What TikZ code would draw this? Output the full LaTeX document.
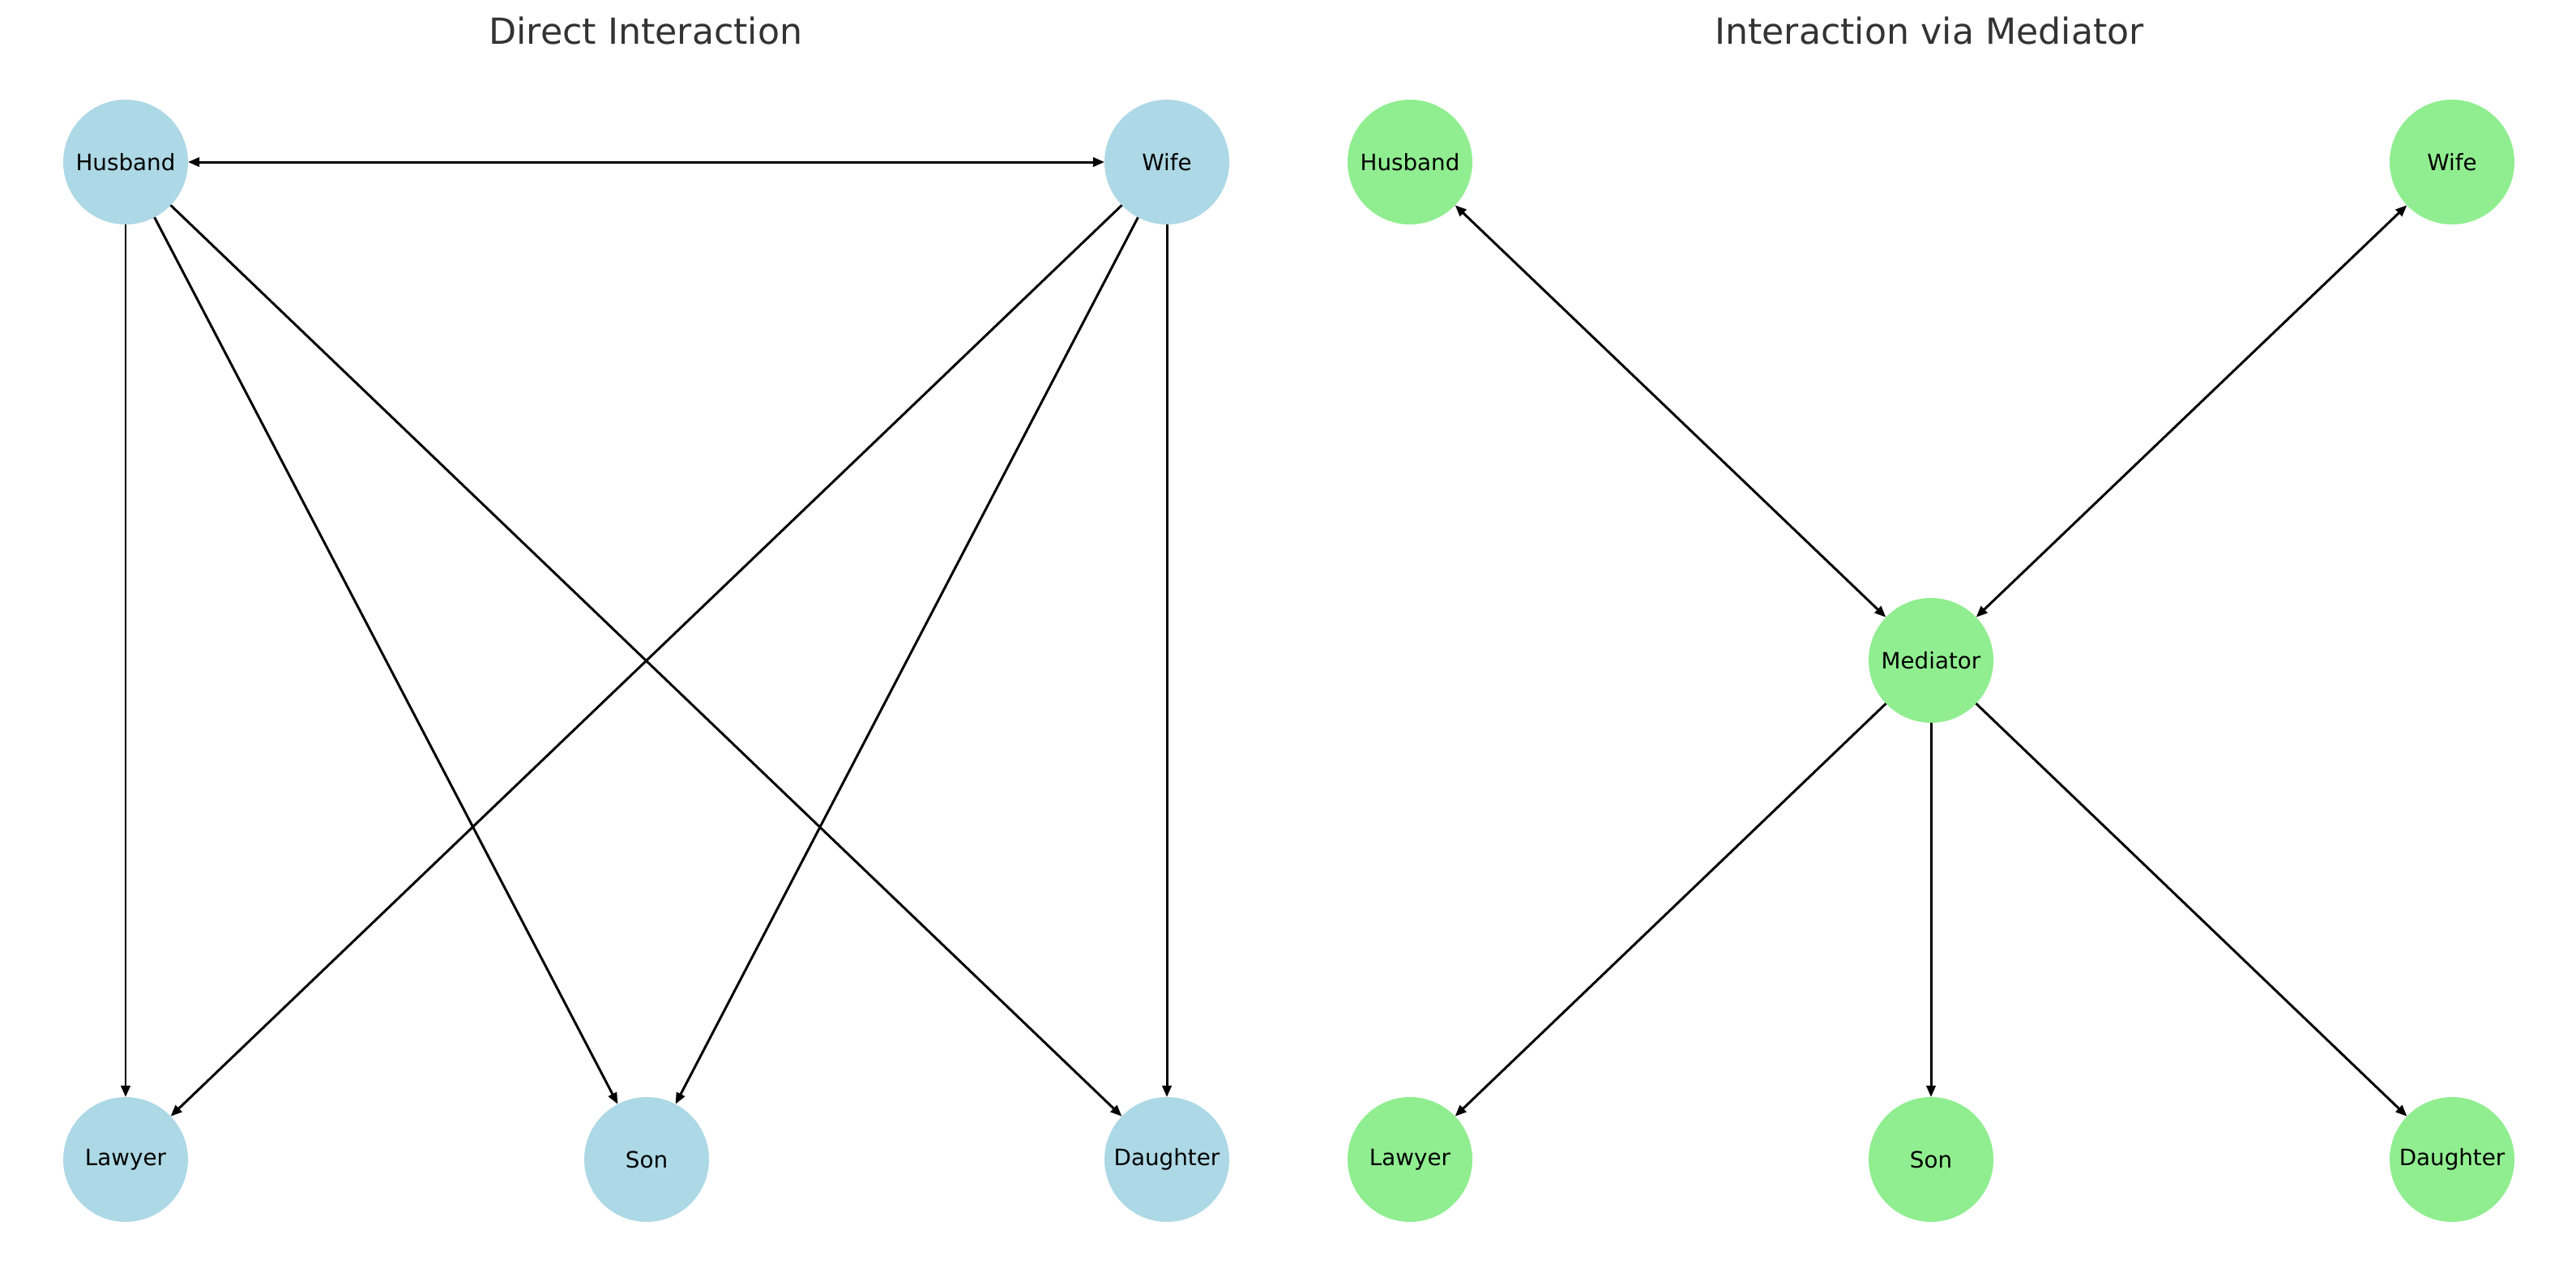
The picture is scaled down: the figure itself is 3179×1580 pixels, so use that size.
\documentclass[tikz,border=0pt]{standalone}
\usepackage{fontspec}
\setmainfont{DejaVu Sans}
\usetikzlibrary{arrows.meta}
\definecolor{nblue}{HTML}{ADD8E6}
\definecolor{ngreen}{HTML}{90EE90}
\definecolor{ttl}{HTML}{333333}
\tikzset{
  person/.style={circle, minimum size=15.4mm, inner sep=0pt, outer sep=0pt, font=\fontsize{7.9pt}{9pt}\selectfont, text=black},
  bluenode/.style={person, fill=nblue},
  greennode/.style={person, fill=ngreen},
  link/.style={line width=0.85pt, draw=black, -{Triangle[length=4pt,width=3.2pt]}},
  dlink/.style={line width=0.85pt, draw=black, {Triangle[length=4pt,width=3.2pt]}-{Triangle[length=4pt,width=3.2pt]}},
  paneltitle/.style={anchor=base, text=ttl, font=\fontsize{12.6pt}{14pt}\selectfont}
}
\begin{document}
\begin{tikzpicture}[x=0.1mm,y=-0.1mm]
\useasboundingbox (0,0) rectangle (3179,1580);
% titles
\node[paneltitle] (t1) at (797,54) {Direct Interaction};
\node[paneltitle] (t2) at (2381,54) {Interaction via Mediator};
% left panel
\node[bluenode] (h1) at (155,200) {Husband};
\node[bluenode] (w1) at (1440,200) {Wife};
\node[bluenode] (l1) at (155,1431) {Lawyer};
\node[bluenode] (s1) at (798,1431) {Son};
\node[bluenode] (d1) at (1440,1431) {Daughter};
\draw[dlink] (h1) -- (w1);
\draw[link] (h1) -- (l1);
\draw[link] (h1) -- (s1);
\draw[link] (h1) -- (d1);
\draw[link] (w1) -- (l1);
\draw[link] (w1) -- (s1);
\draw[link] (w1) -- (d1);
% right panel
\node[greennode] (h2) at (1740,200) {Husband};
\node[greennode] (w2) at (3026,200) {Wife};
\node[greennode] (m2) at (2383,815) {Mediator};
\node[greennode] (l2) at (1740,1431) {Lawyer};
\node[greennode] (s2) at (2383,1431) {Son};
\node[greennode] (d2) at (3026,1431) {Daughter};
\draw[dlink] (h2) -- (m2);
\draw[dlink] (w2) -- (m2);
\draw[link] (m2) -- (l2);
\draw[link] (m2) -- (s2);
\draw[link] (m2) -- (d2);
\end{tikzpicture}
\end{document}
